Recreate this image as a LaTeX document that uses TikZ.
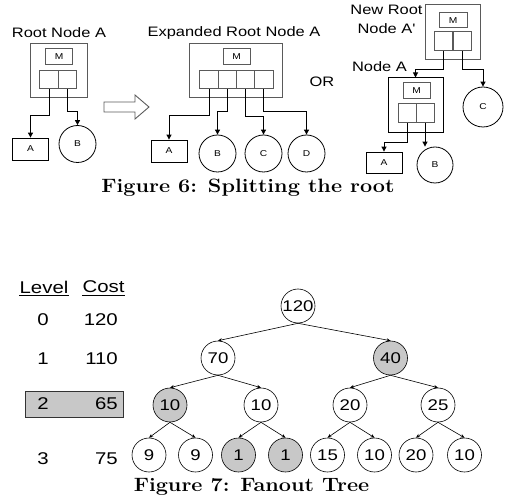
\documentclass[tikz,border=0pt]{standalone}
\usepackage{fontspec}
\newfontfamily\arialx{Liberation Sans}[FakeStretch=1.2]
\newfontfamily\capfont{Latin Modern Roman}[FakeStretch=1.12]
\usetikzlibrary{arrows.meta}
\definecolor{boxgray}{RGB}{200,200,200}
\definecolor{linegray}{RGB}{90,90,90}
\tikzset{
  lbl/.style={font=\arialx\fontsize{13.7}{16}\selectfont, inner sep=0pt},
  tiny/.style={font=\arialx\fontsize{8.5}{10}\selectfont},
  outerbox/.style={draw=linegray, line width=1pt, inner sep=0pt},
  mbox/.style={draw=linegray, line width=1pt, inner sep=0pt, minimum width=27pt, minimum height=16pt, tiny},
  cell/.style={draw=linegray, line width=1pt, inner sep=0pt, minimum width=18.5pt, minimum height=18pt},
  leafbox/.style={draw=black, line width=0.8pt, inner sep=0pt, minimum width=36pt, minimum height=22pt, tiny},
  leafcirc/.style={draw=black, line width=0.8pt, circle, inner sep=0pt, minimum size=37pt, tiny},
  link/.style={draw=black, line width=0.9pt, -{Triangle[length=5pt,width=5pt]}},
  tnode/.style={draw=black, line width=0.6pt, circle, inner sep=0pt, minimum size=34pt, font=\arialx\fontsize{15.5}{18}\selectfont},
  gnode/.style={tnode, fill=boxgray},
  tedge/.style={draw=black, line width=0.6pt, -{Stealth[length=4pt,width=3.5pt]}},
  tab/.style={font=\arialx\fontsize{17}{20}\selectfont, inner sep=0pt},
  captxt/.style={font=\capfont\bfseries\fontsize{19.3}{22}\selectfont, inner sep=0pt},
}
\begin{document}
\begin{tikzpicture}[x=1pt,y=-1pt]
\useasboundingbox (0,0) rectangle (508,502);
% ---------- Root Node A ----------
\node[lbl] (t1) at (59,33) {Root Node A};
\node[outerbox, minimum width=57pt, minimum height=54pt] (r1) at (58.5,71) {};
\node[mbox] (r1m) at (59,57) {M};
\node[cell] (r1a) at (49,80) {};
\node[cell] (r1b) at (67.5,80) {};
\node[leafbox] (r1A) at (30.5,149) {A};
\node[leafcirc] (r1B) at (77.5,144) {B};
\coordinate (r1ka) at (49,115);
\coordinate (r1kb) at (67.5,111);
\draw[link] (r1a.south) -- (r1ka) -| (r1A.north);
\draw[link] (r1b.south) -- (r1kb) -| (r1B.north);
% ---------- block arrow ----------
\draw[linegray, line width=0.9pt] (104,102) -- (135,102) -- (135,95) -- (149,107) -- (135,119) -- (135,112) -- (104,112) -- cycle;
% ---------- Expanded Root Node A ----------
\node[lbl] (t2) at (234,33) {Expanded Root Node A};
\node[outerbox, minimum width=93pt, minimum height=54pt] (r2) at (235.5,71) {};
\node[mbox] (r2m) at (236.5,57) {M};
\node[cell, minimum width=18.25pt] (r2a) at (209.1,80) {};
\node[cell, minimum width=18.25pt] (r2b) at (227.4,80) {};
\node[cell, minimum width=18.25pt] (r2c) at (245.6,80) {};
\node[cell, minimum width=18.25pt] (r2d) at (263.9,80) {};
\node[leafbox] (r2A) at (169,151) {A};
\node[leafcirc] (r2B) at (217.5,153.5) {B};
\node[leafcirc] (r2C) at (263.5,153.5) {C};
\node[leafcirc] (r2D) at (306.5,153.5) {D};
\coordinate (r2ka) at (209.1,115);
\coordinate (r2kb) at (227.4,111);
\coordinate (r2kc) at (245.6,116);
\coordinate (r2kd) at (263.9,111);
\draw[link] (r2a.south) -- (r2ka) -| (r2A.north);
\draw[link] (r2b.south) -- (r2kb) -| (r2B.north);
\draw[link] (r2c.south) -- (r2kc) -| (r2C.north);
\draw[link] (r2d.south) -- (r2kd) -| (r2D.north);
\node[lbl] (or) at (322,82) {OR};
% ---------- New Root Node A' ----------
\node[lbl, align=center, font=\arialx\fontsize{13.7}{19}\selectfont] (t3) at (386.5,19.5) {New Root\\Node A'};
\node[outerbox, minimum width=55pt, minimum height=55pt] (r3) at (452.5,32.5) {};
\node[mbox, minimum width=28pt, minimum height=15pt] (r3m) at (453,20.5) {M};
\node[cell, minimum height=19pt] (r3a) at (443.5,41.5) {};
\node[cell, minimum height=19pt] (r3b) at (462.5,41.5) {};
\node[lbl] (t4) at (379.5,67) {Node A};
\node[outerbox, draw=black, minimum width=55pt, minimum height=55pt] (r4) at (415.5,105.5) {};
\node[mbox] (r4m) at (416.5,91) {M};
\node[cell, minimum width=18pt, minimum height=19pt] (r4a) at (407,113.5) {};
\node[cell, minimum width=18pt, minimum height=19pt] (r4b) at (425,113.5) {};
\node[leafcirc, minimum size=40pt] (r3C) at (483,107) {C};
\node[leafbox, minimum height=21pt] (r4A) at (384,162.5) {A};
\node[leafcirc, minimum size=36pt] (r4B) at (435,165) {B};
\coordinate (r3ka) at (443.5,69);
\coordinate (r3kb) at (462.5,69);
\coordinate (r4ka) at (407,142);
\draw[link] (r3a.south) -- (r3ka) -| (r4.north);
\draw[link] (r3b.south) -- (r3kb) -| (r3C.north);
\draw[link] (r4a.south) -- (r4ka) -| (r4A.north);
\draw[link] (r4b.south) -- (r4b.south |- r4B.north);
\node[captxt] (c6) at (248,188) {Figure 6: Splitting the root};
% ---------- Fanout tree table ----------
\node[draw=black!80, line width=0.8pt, fill=boxgray, minimum width=98pt, minimum height=26pt, inner sep=0pt] (hl) at (74,404) {};
\node[tab] (hlev) at (44,287) {Level};
\node[tab] (hcost) at (103.5,287) {Cost};
\draw[line width=1pt] (hlev.south west) ++(0,2) coordinate (u1) -- (u1 -| hlev.south east);
\draw[line width=1pt] (hcost.south west) ++(0,2) coordinate (u2) -- (u2 -| hcost.south east);
\node[tab] (l0) at (43,320) {0};
\node[tab] (l1) at (43,359) {1};
\node[tab] (l2) at (43,404) {2};
\node[tab] (l3) at (43,459) {3};
\node[tab, anchor=east] (k0) at (118,320) {120};
\node[tab, anchor=east] (k1) at (118,359) {110};
\node[tab, anchor=east] (k2) at (118,404) {65};
\node[tab, anchor=east] (k3) at (118,459) {75};
% ---------- tree ----------
\node[tnode] (n0) at (298,306) {120};
\node[tnode] (n10) at (218,358) {70};
\node[gnode] (n11) at (390.5,358) {40};
\node[gnode] (n20) at (170,405) {10};
\node[tnode] (n21) at (261,405) {10};
\node[tnode] (n22) at (350,405) {20};
\node[tnode] (n23) at (438,405) {25};
\node[tnode] (n30) at (149,455) {9};
\node[tnode] (n31) at (195.5,455) {9};
\node[gnode] (n32) at (238.5,455) {1};
\node[gnode] (n33) at (285.5,455) {1};
\node[tnode] (n34) at (327.5,455) {15};
\node[tnode] (n35) at (374.5,455) {10};
\node[tnode] (n36) at (416,455) {20};
\node[tnode] (n37) at (464.5,455) {10};
\draw[tedge] (n0.south) -- (n10.north);
\draw[tedge] (n0.south) -- (n11.north);
\draw[tedge] (n10.south) -- (n20.north);
\draw[tedge] (n10.south) -- (n21.north);
\draw[tedge] (n11.south) -- (n22.north);
\draw[tedge] (n11.south) -- (n23.north);
\draw[tedge] (n20.south) -- (n30.north);
\draw[tedge] (n20.south) -- (n31.north);
\draw[tedge] (n21.south) -- (n32.north);
\draw[tedge] (n21.south) -- (n33.north);
\draw[tedge] (n22.south) -- (n34.north);
\draw[tedge] (n22.south) -- (n35.north);
\draw[tedge] (n23.south) -- (n36.north);
\draw[tedge] (n23.south) -- (n37.north);
\node[captxt] (c7) at (251.5,487) {Figure 7: Fanout Tree};
\end{tikzpicture}
\end{document}
